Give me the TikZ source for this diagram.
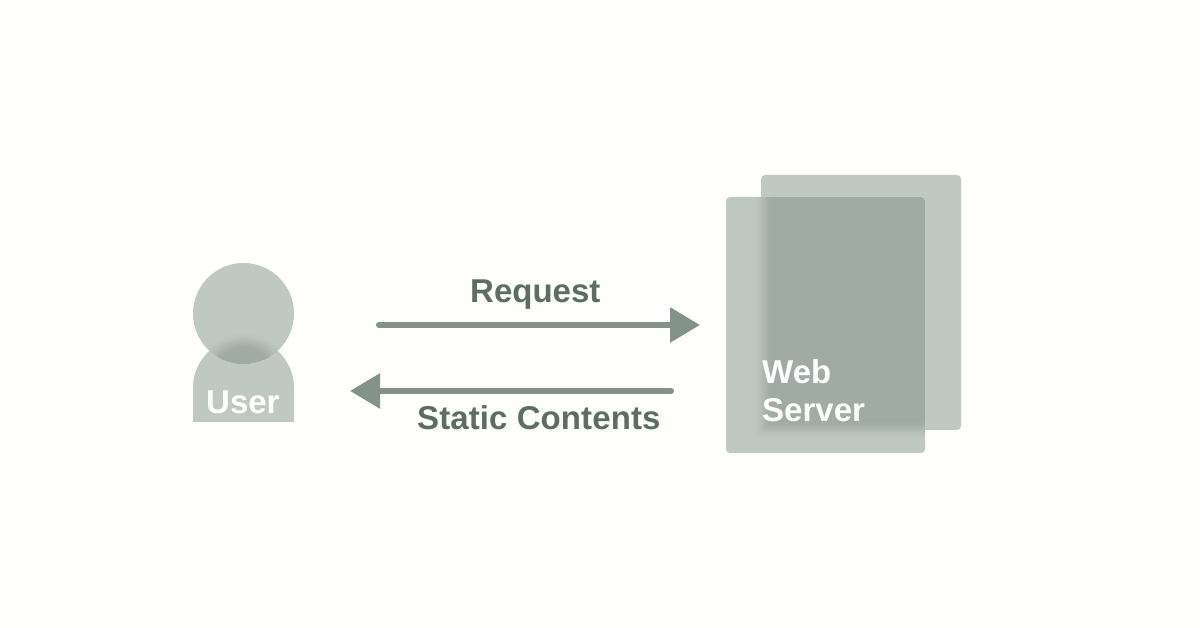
\documentclass[tikz,border=0pt]{standalone}
\usepackage{fontspec}
\setmainfont{Liberation Sans}
\usetikzlibrary{arrows.meta}
\definecolor{pagebg}{HTML}{FEFEFD}
\definecolor{lightc}{HTML}{C0C8C3}
\definecolor{darkc}{HTML}{A1ABA5}
\definecolor{textc}{HTML}{5C6D63}
\definecolor{arrowc}{HTML}{84938A}
\tikzset{
  darklabel/.style={inner sep=0pt,anchor=base west,text=textc,font=\fontsize{33}{38}\selectfont\bfseries},
  whitelabel/.style={inner sep=0pt,anchor=base west,text=white,font=\fontsize{33}{38}\selectfont\bfseries},
  flowarrow/.style={draw=arrowc,line width=6pt,line cap=round,-{Triangle[length=30pt,width=34pt,fill=arrowc]}},
  sheet/.style={fill=lightc,rounded corners=4pt}
}
\begin{document}
\begin{tikzpicture}[x=1pt,y=1pt]
\useasboundingbox (0,0) rectangle (1200,628);
\fill[pagebg] (0,0) rectangle (1200,628);
% back sheet
\path[sheet] (761,198) rectangle (961,453);
% front sheet
\path[sheet] (726,175) rectangle (925,431);
\begin{scope}
  \clip[rounded corners=4pt] (726.5,175.5) rectangle (924.5,430.5);
  \foreach \i in {0,...,20}{
    \pgfmathsetmacro{\t}{\i/20}
    \pgfmathsetmacro{\p}{100*(3*\t*\t-2*\t*\t*\t)}
    \colorlet{stepc}{darkc!\p!lightc}
    \pgfmathsetmacro{\lx}{752+\i}
    \pgfmathsetmacro{\by}{187+\i}
    \fill[stepc] (\lx,\by) rectangle (940,440);
  }
\end{scope}
% user body
\fill[lightc] (193,206) -- (193,240) arc[start angle=180,end angle=0,radius=50.5] -- (294,206) -- cycle;
% user head
\fill[lightc] (243.5,314.5) circle[radius=50.5];
\begin{scope}
  \clip (243.5,314.5) circle[radius=50];
  \foreach \i in {0,...,24}{
    \pgfmathsetmacro{\t}{\i/24}
    \pgfmathsetmacro{\p}{100*(3*\t*\t-2*\t*\t*\t)}
    \colorlet{stepc}{darkc!\p!lightc}
    \pgfmathsetmacro{\rx}{54-22*\t}
    \pgfmathsetmacro{\ry}{57-19*\t}
    \fill[stepc] (243.5,240) ellipse[x radius=\rx,y radius=\ry];
  }
\end{scope}
% labels
\node[whitelabel] (user) at (206,214.5) {User};
\node[whitelabel] (web) at (762,244.5) {Web};
\node[whitelabel] (server) at (762,206.5) {Server};
\node[darklabel] (request) at (470,325.5) {Request};
\node[darklabel] (static) at (417,198.5) {\addfontfeature{LetterSpace=0.3}Static Contents};
% arrows
\coordinate (reqstart) at (379,303);
\coordinate (reqend) at (700,303);
\coordinate (resstart) at (671,237);
\coordinate (resend) at (350,237);
\draw[flowarrow] (reqstart) -- (reqend);
\draw[flowarrow] (resstart) -- (resend);
\end{tikzpicture}
\end{document}
